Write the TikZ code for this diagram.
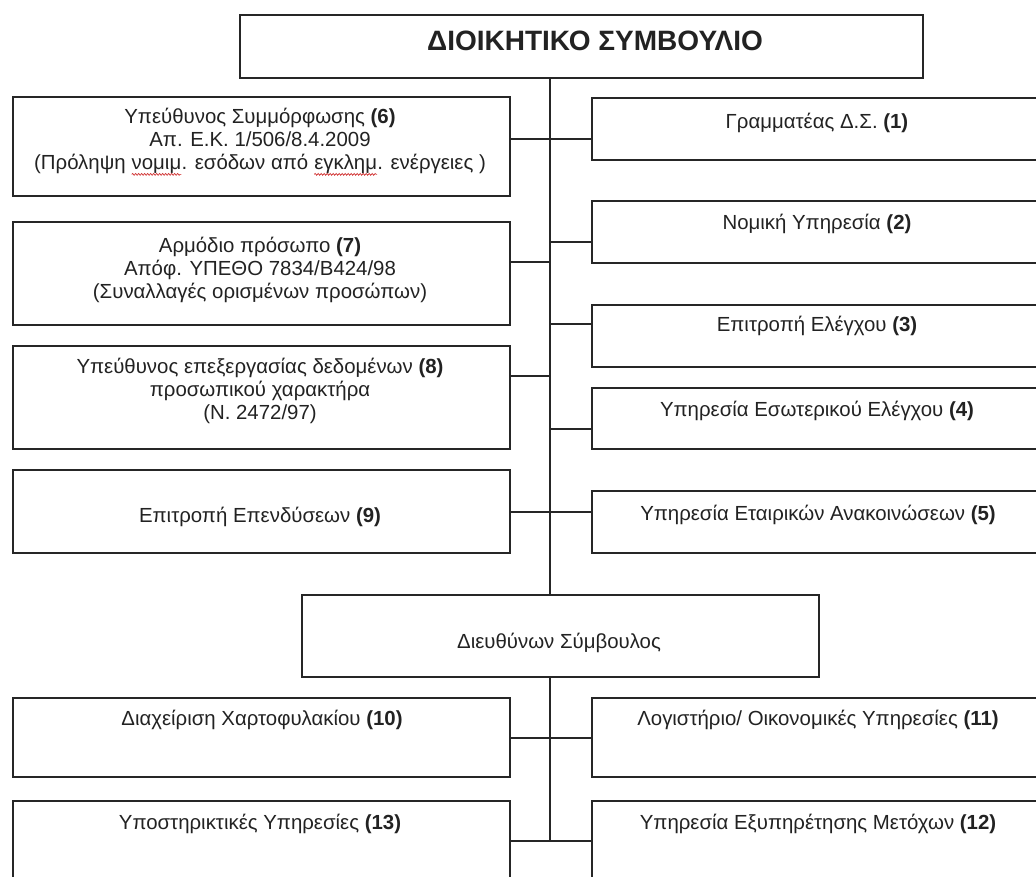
\documentclass[tikz,border=0pt]{standalone}
\usepackage{fontspec}
\setmainfont{Liberation Sans}
\usetikzlibrary{decorations.pathmorphing}
\definecolor{linec}{HTML}{262626}
\definecolor{textc}{HTML}{222222}
\definecolor{spellc}{HTML}{D03030}
\tikzset{squig/.style={draw=spellc, line width=0.7pt, decorate, decoration={snake, segment length=3pt, amplitude=0.9pt}}}
\newcommand{\spellmark}[1]{\tikz[baseline=(sw.base)]{\node[inner sep=0pt, outer sep=0pt] (sw) {#1}; \draw[squig] ([yshift=-5pt]sw.base west) -- ([yshift=-5pt]sw.base east);}}
\begin{document}
\begin{tikzpicture}[x=1pt,y=-1pt,
  box/.style={draw=linec, line width=1.5pt, inner sep=0pt, anchor=north west, fill=none},
  lbox/.style={box, minimum width=497pt},
  rbox/.style={box, minimum width=452pt},
  txt/.style={text=textc, font=\fontsize{20.4}{22.8}\selectfont, align=center, inner sep=0pt},
  conn/.style={draw=linec, line width=1.5pt}]
\useasboundingbox (0,0) rectangle (1036,876);
\clip (0,0) rectangle (1036,876);
% boxes
\node[box, minimum width=683pt, minimum height=63pt] (top) at (239,14) {};
\node[lbox, minimum height=99pt] (b6) at (12,96) {};
\node[lbox, minimum height=103pt] (b7) at (12,221) {};
\node[lbox, minimum height=103pt] (b8) at (12,345) {};
\node[lbox, minimum height=83pt] (b9) at (12,469) {};
\node[rbox, minimum height=62pt] (b1) at (591,97) {};
\node[rbox, minimum height=62pt] (b2) at (591,200) {};
\node[rbox, minimum height=62pt] (b3) at (591,304) {};
\node[rbox, minimum height=61pt] (b4) at (591,387) {};
\node[rbox, minimum height=62pt] (b5) at (591,490) {};
\node[box, minimum width=517pt, minimum height=82pt] (ceo) at (301,594) {};
\node[lbox, minimum height=79pt] (b10) at (12,697) {};
\node[rbox, minimum height=79pt] (b11) at (591,697) {};
\node[lbox, minimum height=100pt] (b13) at (12,800) {};
\node[rbox, minimum height=100pt] (b12) at (591,800) {};
% texts
\node[txt, font=\fontsize{28}{31}\selectfont\bfseries] (ttop) at (595,41) {ΔΙΟΙΚΗΤΙΚΟ ΣΥΜΒΟΥΛΙΟ};
\node[txt] (t6) at (260,142) {Υπεύθυνος Συμμόρφωσης \textbf{(6)}\\Απ. Ε.Κ. 1/506/8.4.2009\\(Πρόληψη \spellmark{νομιμ}. εσόδων από \spellmark{εγκλημ}. ενέργειες )};
\node[txt] (t7) at (260,270) {Αρμόδιο πρόσωπο \textbf{(7)}\\Απόφ. ΥΠΕΘΟ 7834/Β424/98\\(Συναλλαγές ορισμένων προσώπων)};
\node[txt] (t8) at (260,391) {Υπεύθυνος επεξεργασίας δεδομένων \textbf{(8)}\\προσωπικού χαρακτήρα\\(Ν. 2472/97)};
\node[txt] (t9) at (260,517) {Επιτροπή Επενδύσεων \textbf{(9)}};
\node[txt] (t1) at (817,123) {Γραμματέας Δ.Σ. \textbf{(1)}};
\node[txt] (t2) at (817,224) {Νομική Υπηρεσία \textbf{(2)}};
\node[txt] (t3) at (817,326) {Επιτροπή Ελέγχου \textbf{(3)}};
\node[txt] (t4) at (817,411) {Υπηρεσία Εσωτερικού Ελέγχου \textbf{(4)}};
\node[txt] (t5) at (818,515) {Υπηρεσία Εταιρικών Ανακοινώσεων \textbf{(5)}};
\node[txt] (tceo) at (559,643) {Διευθύνων Σύμβουλος};
\node[txt] (t10) at (262,720) {Διαχείριση Χαρτοφυλακίου \textbf{(10)}};
\node[txt] (t11) at (818,720) {Λογιστήριο/ Οικονομικές Υπηρεσίες \textbf{(11)}};
\node[txt] (t13) at (260,824) {Υποστηρικτικές Υπηρεσίες \textbf{(13)}};
\node[txt] (t12) at (818,824) {Υπηρεσία Εξυπηρέτησης Μετόχων \textbf{(12)}};
% junctions on trunk
\coordinate (j1) at (550,139);
\coordinate (j2) at (550,242);
\coordinate (j7) at (550,262);
\coordinate (j3) at (550,324);
\coordinate (j8) at (550,376);
\coordinate (j4) at (550,429);
\coordinate (j5) at (550,512);
\coordinate (j10) at (550,738);
\coordinate (j13) at (550,841);
% trunks
\draw[conn] (top.south -| j1) -- (ceo.north -| j1);
\draw[conn] (ceo.south -| j1) -- (j13);
% branches
\draw[conn] (b6.east |- j1) -- (b1.west |- j1);
\draw[conn] (j2) -- (b2.west |- j2);
\draw[conn] (b7.east |- j7) -- (j7);
\draw[conn] (j3) -- (b3.west |- j3);
\draw[conn] (b8.east |- j8) -- (j8);
\draw[conn] (j4) -- (b4.west |- j4);
\draw[conn] (b9.east |- j5) -- (b5.west |- j5);
\draw[conn] (b10.east |- j10) -- (b11.west |- j10);
\draw[conn] (b13.east |- j13) -- (b12.west |- j13);
\end{tikzpicture}
\end{document}
